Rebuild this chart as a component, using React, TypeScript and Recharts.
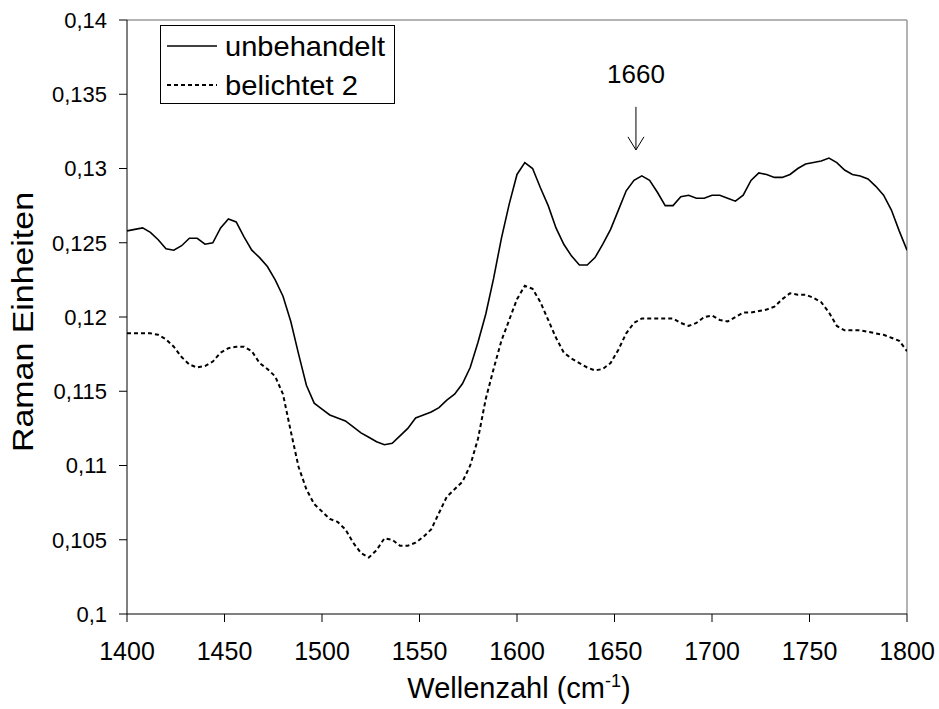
import React from 'react';
import { LineChart, Line, XAxis, YAxis, ReferenceLine, ReferenceDot, Legend } from 'recharts';

const WAVENUMBERS = [
  1400, 1404, 1408, 1412, 1416, 1420, 1424, 1428, 1432, 1436,
  1440, 1444, 1448, 1452, 1456, 1460, 1464, 1468, 1472, 1476,
  1480, 1484, 1488, 1492, 1496, 1500, 1504, 1508, 1512, 1516,
  1520, 1524, 1528, 1532, 1536, 1540, 1544, 1548, 1552, 1556,
  1560, 1564, 1568, 1572, 1576, 1580, 1584, 1588, 1592, 1596,
  1600, 1604, 1608, 1612, 1616, 1620, 1624, 1628, 1632, 1636,
  1640, 1644, 1648, 1652, 1656, 1660, 1664, 1668, 1672, 1676,
  1680, 1684, 1688, 1692, 1696, 1700, 1704, 1708, 1712, 1716,
  1720, 1724, 1728, 1732, 1736, 1740, 1744, 1748, 1752, 1756,
  1760, 1764, 1768, 1772, 1776, 1780, 1784, 1788, 1792, 1796,
  1800,
];

const UNBEHANDELT = [
  0.1258, 0.1259, 0.1260, 0.1257, 0.1252, 0.1246, 0.1245, 0.1248, 0.1253, 0.1253,
  0.1249, 0.1250, 0.1260, 0.1266, 0.1264, 0.1254, 0.1245, 0.1240, 0.1234, 0.1225,
  0.1214, 0.1197, 0.1175, 0.1154, 0.1142, 0.1138, 0.1134, 0.1132, 0.1130, 0.1126,
  0.1122, 0.1119, 0.1116, 0.1114, 0.1115, 0.1120, 0.1125, 0.1132, 0.1134, 0.1136,
  0.1139, 0.1144, 0.1148, 0.1155, 0.1166, 0.1183, 0.1202, 0.1226, 0.1253, 0.1276,
  0.1296, 0.1304, 0.1300, 0.1287, 0.1275, 0.1260, 0.1249, 0.1241, 0.1235, 0.1235,
  0.1240, 0.1249, 0.1259, 0.1272, 0.1285, 0.1292, 0.1295, 0.1292, 0.1284, 0.1275,
  0.1275, 0.1281, 0.1282, 0.1280, 0.1280, 0.1282, 0.1282, 0.1280, 0.1278, 0.1282,
  0.1292, 0.1297, 0.1296, 0.1294, 0.1294, 0.1296, 0.1300, 0.1303, 0.1304, 0.1305,
  0.1307, 0.1304, 0.1299, 0.1296, 0.1295, 0.1293, 0.1288, 0.1282, 0.1272, 0.1258,
  0.1245,
];

const BELICHTET_2 = [
  0.1189, 0.1189, 0.1189, 0.1189, 0.1188, 0.1185, 0.1180, 0.1173, 0.1168, 0.1166,
  0.1167, 0.1170, 0.1176, 0.1179, 0.1180, 0.1180, 0.1177, 0.1169, 0.1165, 0.1160,
  0.1148, 0.1123, 0.1099, 0.1084, 0.1074, 0.1069, 0.1064, 0.1062, 0.1057, 0.1048,
  0.1041, 0.1038, 0.1043, 0.1051, 0.1050, 0.1046, 0.1046, 0.1048, 0.1052, 0.1057,
  0.1068, 0.1079, 0.1084, 0.1089, 0.1100, 0.1118, 0.1145, 0.1165, 0.1184, 0.1198,
  0.1212, 0.1221, 0.1219, 0.1210, 0.1198, 0.1186, 0.1176, 0.1172, 0.1169, 0.1166,
  0.1164, 0.1165, 0.1169, 0.1178, 0.1189, 0.1196, 0.1199, 0.1199, 0.1199, 0.1199,
  0.1199, 0.1196, 0.1194, 0.1196, 0.1200, 0.1201, 0.1198, 0.1197, 0.1200, 0.1203,
  0.1203, 0.1204, 0.1205, 0.1207, 0.1212, 0.1216, 0.1215, 0.1215, 0.1213, 0.1210,
  0.1203, 0.1194, 0.1191, 0.1191, 0.1191, 0.1190, 0.1189, 0.1188, 0.1186, 0.1184,
  0.1177,
];

const X_TICKS = [1400, 1450, 1500, 1550, 1600, 1650, 1700, 1750, 1800];
const Y_TICKS = [0.1, 0.105, 0.11, 0.115, 0.12, 0.125, 0.13, 0.135, 0.14];
const SERIES_NAMES = ['unbehandelt', 'belichtet 2'];
const PEAK_LABEL = '1660';
const PEAK_X = 1661;

const data = WAVENUMBERS.map((x, i) => ({ x, unbehandelt: UNBEHANDELT[i], belichtet: BELICHTET_2[i] }));

const FONT = '"Liberation Sans", Arial, sans-serif';

const fmtY = (v: number) => String(v).replace('.', ',');

const YTitle = () => (
  <text
    x={0}
    y={0}
    transform="translate(33,322) rotate(-90)"
    textAnchor="middle"
    fontFamily={FONT}
    fontSize={29}
    fill="#000"
    textLength={260}
    lengthAdjust="spacingAndGlyphs"
  >
    Raman Einheiten
  </text>
);

const XTitle = () => (
  <text x={519} y={698} textAnchor="middle" fontFamily={FONT} fontSize={29} fill="#000">
    Wellenzahl (cm
    <tspan dy={-11} fontSize={18}>-1</tspan>
    <tspan dy={11}>)</tspan>
  </text>
);

const LegendBox = () => (
  <svg width={236} height={80} style={{ display: 'block' }}>
    <rect x={0.5} y={0.5} width={234} height={78} fill="#fff" stroke="#000" strokeWidth={1} />
    <line x1={7} y1={21} x2={57} y2={21} stroke="#000" strokeWidth={1.5} />
    <line x1={7} y1={60} x2={57} y2={60} stroke="#000" strokeWidth={2} strokeDasharray="4 3" />
    <text x={65} y={31} fontFamily={FONT} fontSize={28} fill="#000" textLength={160} lengthAdjust="spacingAndGlyphs">
      {SERIES_NAMES[0]}
    </text>
    <text x={65} y={70} fontFamily={FONT} fontSize={28} fill="#000" textLength={133} lengthAdjust="spacingAndGlyphs">
      {SERIES_NAMES[1]}
    </text>
  </svg>
);

const PeakLabel = (props: any) => {
  const vb = props.viewBox || {};
  const cx = (vb.x ?? 0) + (vb.width ?? 0) / 2;
  const cy = (vb.y ?? 0) + (vb.height ?? 0) / 2;
  return (
    <text x={cx} y={cy + 9} textAnchor="middle" fontFamily={FONT} fontSize={26} fill="#000">
      {PEAK_LABEL}
    </text>
  );
};

export default function App() {
  return (
    <div style={{ position: 'absolute', left: 0, top: 0, width: 939, height: 709, background: '#fff' }}>
      <LineChart width={939} height={709} data={data} margin={{ top: 20, right: 32, bottom: 0, left: 0 }}>
        <XAxis
          type="number"
          dataKey="x"
          domain={[1400, 1800]}
          ticks={X_TICKS}
          allowDataOverflow
          height={95}
          tickSize={8}
          tickMargin={20}
          stroke="#000"
          tick={{ fill: '#000', fontSize: 25, fontFamily: FONT }}
          label={<XTitle />}
        />
        <YAxis
          type="number"
          domain={[0.1, 0.14]}
          ticks={Y_TICKS}
          allowDataOverflow
          width={127}
          tickSize={8}
          tickMargin={12}
          stroke="#000"
          tickFormatter={fmtY}
          tick={{ fill: '#000', fontSize: 22, fontFamily: FONT }}
          label={<YTitle />}
        />
        <ReferenceLine y={0.14} stroke="#9a9a9a" strokeWidth={1.5} />
        <ReferenceLine x={1800} stroke="#9a9a9a" strokeWidth={1.5} />
        <Legend
          layout="horizontal"
          verticalAlign="middle"
          align="center"
          content={() => <LegendBox />}
          wrapperStyle={{ position: 'absolute', left: 160, top: 25, width: 236, height: 80 }}
        />
        <Line
          type="linear"
          dataKey="unbehandelt"
          name={SERIES_NAMES[0]}
          stroke="#000"
          strokeWidth={1.6}
          dot={false}
          isAnimationActive={false}
        />
        <Line
          type="linear"
          dataKey="belichtet"
          name={SERIES_NAMES[1]}
          stroke="#000"
          strokeWidth={2}
          strokeDasharray="4 3"
          dot={false}
          isAnimationActive={false}
        />
        <ReferenceLine segment={[{ x: PEAK_X, y: 0.13415 }, { x: PEAK_X, y: 0.13125 }]} stroke="#000" strokeWidth={1} />
        <ReferenceLine segment={[{ x: PEAK_X - 4.1, y: 0.13213 }, { x: PEAK_X, y: 0.13125 }]} stroke="#000" strokeWidth={1} />
        <ReferenceLine segment={[{ x: PEAK_X + 4.1, y: 0.13213 }, { x: PEAK_X, y: 0.13125 }]} stroke="#000" strokeWidth={1} />
        <ReferenceDot x={PEAK_X} y={0.13637} r={0} fill="none" stroke="none" label={<PeakLabel />} />
      </LineChart>
    </div>
  );
}
